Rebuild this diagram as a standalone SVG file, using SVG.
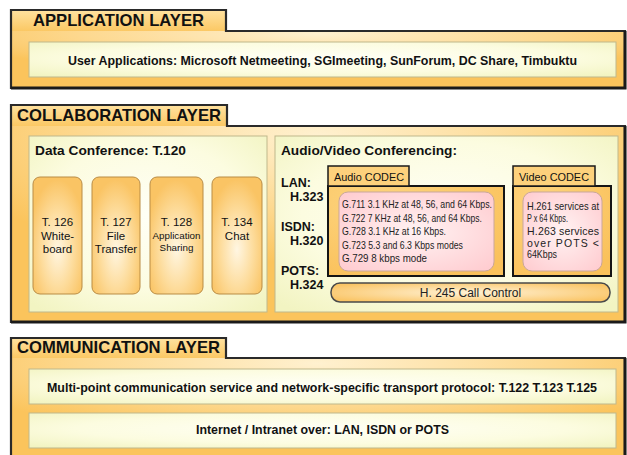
<svg xmlns="http://www.w3.org/2000/svg" width="627" height="455" viewBox="0 0 627 455">
<defs>
<radialGradient id="layerG" cx="0.5" cy="0.05" r="0.65">
<stop offset="0" stop-color="#FFF1D0"/><stop offset="0.6" stop-color="#FDD88E"/><stop offset="1" stop-color="#FBC45C"/>
</radialGradient>
<linearGradient id="tabG" x1="0" y1="0" x2="0" y2="1">
<stop offset="0" stop-color="#FFE2A0"/><stop offset="1" stop-color="#FBC864"/>
</linearGradient>
<radialGradient id="creamG" cx="0.5" cy="0.45" r="0.7">
<stop offset="0" stop-color="#FFFFF6"/><stop offset="0.6" stop-color="#FCFCE0"/><stop offset="1" stop-color="#F2F4C2"/>
</radialGradient>
<radialGradient id="colG" cx="0.5" cy="0.62" r="0.6">
<stop offset="0" stop-color="#FFF6E2"/><stop offset="0.55" stop-color="#FDDC9C"/><stop offset="1" stop-color="#FAC464"/>
</radialGradient>
<radialGradient id="pinkG" cx="0.5" cy="0.5" r="0.65">
<stop offset="0" stop-color="#FFF3F3"/><stop offset="1" stop-color="#FFCDD1"/>
</radialGradient>
<radialGradient id="codecG" cx="0.3" cy="0.2" r="0.9">
<stop offset="0" stop-color="#FDD47E"/><stop offset="1" stop-color="#FAC15B"/>
</radialGradient>
<radialGradient id="pillG" cx="0.5" cy="0.5" r="0.6">
<stop offset="0" stop-color="#FFF2D6"/><stop offset="1" stop-color="#FAC566"/>
</radialGradient>
</defs>
<style>
.outline{fill:none;stroke:#2a2a2a;stroke-width:2.2;stroke-linejoin:miter}
.layer{fill:url(#layerG)}
.tab{fill:url(#tabG)}
.title{font-family:"Liberation Sans",Arial,sans-serif;font-weight:bold;font-size:16.3px;fill:#111}
.cream{fill:url(#creamG);stroke:#BFB88C;stroke-width:1}
.bold13{font-family:"Liberation Sans",Arial,sans-serif;font-weight:bold;font-size:13px;fill:#111}
.bold12{font-family:"Liberation Sans",Arial,sans-serif;font-weight:bold;font-size:12.5px;fill:#111}
.col{fill:url(#colG);stroke:#B98C45;stroke-width:1}
.colt{font-family:"Liberation Sans",Arial,sans-serif;font-size:11.5px;fill:#111;text-anchor:middle}
.colts{font-family:"Liberation Sans",Arial,sans-serif;font-size:9.8px;fill:#111;text-anchor:middle}
.codec{fill:url(#codecG);stroke:#151515;stroke-width:2}
.ctab{fill:#FDD17C;stroke:#1a1a1a;stroke-width:1.5}
.ctabt{font-family:"Liberation Sans",Arial,sans-serif;font-size:11.5px;fill:#111}
.pink{fill:url(#pinkG);stroke:#C9A79C;stroke-width:1}
.sm{font-family:"Liberation Sans",Arial,sans-serif;font-size:10.5px;fill:#222}
.pill{fill:url(#pillG);stroke:#4a4a4a;stroke-width:1.5}
.pillt{font-family:"Liberation Sans",Arial,sans-serif;font-size:12px;fill:#222;text-anchor:middle}
</style>
<rect width="627" height="455" fill="#ffffff"/>

<g id="application-layer">
<rect class="layer" x="11" y="31" width="614" height="57"/>
<rect class="tab" x="11" y="10" width="215" height="21"/>
<path class="outline" d="M11,31 V10 H226 V31 H625 V88 H11 Z"/>
<path d="M11,88 H625 V31" fill="none" stroke="#1a1a1a" stroke-width="3"/>
<text class="title" x="33" y="26" textLength="171" lengthAdjust="spacingAndGlyphs">APPLICATION LAYER</text>
</g>
<g id="user-applications">
<rect class="cream" x="29" y="42" width="587" height="35"/>
<text class="bold13" x="322.5" y="65" text-anchor="middle" textLength="509" lengthAdjust="spacingAndGlyphs">User Applications: Microsoft Netmeeting, SGImeeting, SunForum, DC Share, Timbuktu</text>
</g>

<g id="collaboration-layer">
<rect class="layer" x="11" y="126" width="614" height="196"/>
<rect class="tab" x="11" y="105" width="216" height="21"/>
<path class="outline" d="M11,126 V105 H227 V126 H625 V322 H11 Z"/>
<path d="M11,322 H625 V126" fill="none" stroke="#1a1a1a" stroke-width="3"/>
<text class="title" x="17" y="121" textLength="204" lengthAdjust="spacingAndGlyphs">COLLABORATION LAYER</text>
</g>

<g id="data-conference">
<rect class="cream" x="29" y="136" width="238" height="176"/>
<text class="bold13" x="35" y="155" textLength="151" lengthAdjust="spacingAndGlyphs">Data Conference: T.120</text>
</g>
<g id="t126">
<rect class="col" x="33" y="177" width="49" height="117" rx="7"/>
<text class="colt" x="57.5" y="226">T. 126</text>
<text class="colt" x="57.5" y="239.5">White-</text>
<text class="colt" x="57.5" y="253">board</text>
</g>
<g id="t127">
<rect class="col" x="92" y="177" width="48" height="117" rx="7"/>
<text class="colt" x="116" y="226">T. 127</text>
<text class="colt" x="116" y="239.5">File</text>
<text class="colt" x="116" y="253">Transfer</text>
</g>
<g id="t128">
<rect class="col" x="150" y="177" width="53" height="117" rx="7"/>
<text class="colt" x="176.5" y="226">T. 128</text>
<text class="colts" x="176.5" y="238.5">Application</text>
<text class="colts" x="176.5" y="251">Sharing</text>
</g>
<g id="t134">
<rect class="col" x="212" y="177" width="50" height="117" rx="7"/>
<text class="colt" x="237" y="226">T. 134</text>
<text class="colt" x="237" y="239.5">Chat</text>
</g>

<g id="av-conferencing">
<rect class="cream" x="275" y="136" width="343" height="176"/>
<text class="bold13" x="281" y="155" textLength="176" lengthAdjust="spacingAndGlyphs">Audio/Video Conferencing:</text>
<text class="bold12" x="281" y="187">LAN:</text>
<text class="bold12" x="290" y="201">H.323</text>
<text class="bold12" x="281" y="231">ISDN:</text>
<text class="bold12" x="290" y="245">H.320</text>
<text class="bold12" x="281" y="275">POTS:</text>
<text class="bold12" x="290" y="289">H.324</text>
</g>

<g id="audio-codec">
<rect class="codec" x="328" y="186" width="176" height="90"/>
<rect class="ctab" x="328" y="166" width="81" height="20"/>
<text class="ctabt" x="334" y="181" textLength="70" lengthAdjust="spacingAndGlyphs">Audio CODEC</text>
<rect class="pink" x="339" y="192" width="155" height="79" rx="9"/>
<g class="sm">
<text x="342" y="208" textLength="150" lengthAdjust="spacingAndGlyphs">G.711 3.1 KHz at 48, 56, and 64 Kbps.</text>
<text x="342" y="221.5" textLength="140" lengthAdjust="spacingAndGlyphs">G.722 7 KHz at 48, 56, and 64 Kbps.</text>
<text x="342" y="235" textLength="104" lengthAdjust="spacingAndGlyphs">G.728 3.1 KHz at 16 Kbps.</text>
<text x="342" y="248.5" textLength="121" lengthAdjust="spacingAndGlyphs">G.723 5.3 and 6.3 Kbps modes</text>
<text x="342" y="262" textLength="85" lengthAdjust="spacingAndGlyphs">G.729 8 kbps mode</text>
</g>
</g>

<g id="video-codec">
<rect class="codec" x="513" y="186" width="98" height="90"/>
<rect class="ctab" x="513" y="166" width="82" height="20"/>
<text class="ctabt" x="519" y="181" textLength="70" lengthAdjust="spacingAndGlyphs">Video CODEC</text>
<rect class="pink" x="523" y="192" width="79" height="79" rx="9"/>
<g class="sm">
<text x="527" y="210" textLength="72" lengthAdjust="spacingAndGlyphs">H.261 services at</text>
<text x="527" y="222" textLength="41" lengthAdjust="spacingAndGlyphs">P x 64 Kbps.</text>
<text x="527" y="235" textLength="72" lengthAdjust="spacing">H.263 services</text>
<text x="527" y="247" textLength="72" lengthAdjust="spacing">over POTS &lt;</text>
<text x="527" y="258" textLength="30" lengthAdjust="spacingAndGlyphs">64Kbps</text>
</g>
</g>

<g id="h245">
<rect class="pill" x="331" y="283" width="279" height="19" rx="9"/>
<text class="pillt" x="470.5" y="297">H. 245 Call Control</text>
</g>

<g id="communication-layer">
<rect class="layer" x="11" y="358" width="614" height="110"/>
<rect class="tab" x="11" y="338" width="215" height="20"/>
<path class="outline" d="M11,470 V338 H226 V358 H625 V470"/>
<path d="M625,358 V470" fill="none" stroke="#1a1a1a" stroke-width="3"/>
<text class="title" x="17" y="353" textLength="203" lengthAdjust="spacingAndGlyphs">COMMUNICATION LAYER</text>
</g>
<g id="multipoint">
<rect class="cream" x="29" y="369" width="587" height="35"/>
<text class="bold13" x="322" y="392" text-anchor="middle" textLength="550" lengthAdjust="spacingAndGlyphs">Multi-point communication service and network-specific transport protocol: T.122 T.123 T.125</text>
</g>
<g id="internet">
<rect class="cream" x="29" y="413" width="587" height="35"/>
<text class="bold13" x="322.5" y="434" text-anchor="middle" textLength="253" lengthAdjust="spacingAndGlyphs">Internet / Intranet over: LAN, ISDN or POTS</text>
</g>
<g id="connectors"/>
</svg>
